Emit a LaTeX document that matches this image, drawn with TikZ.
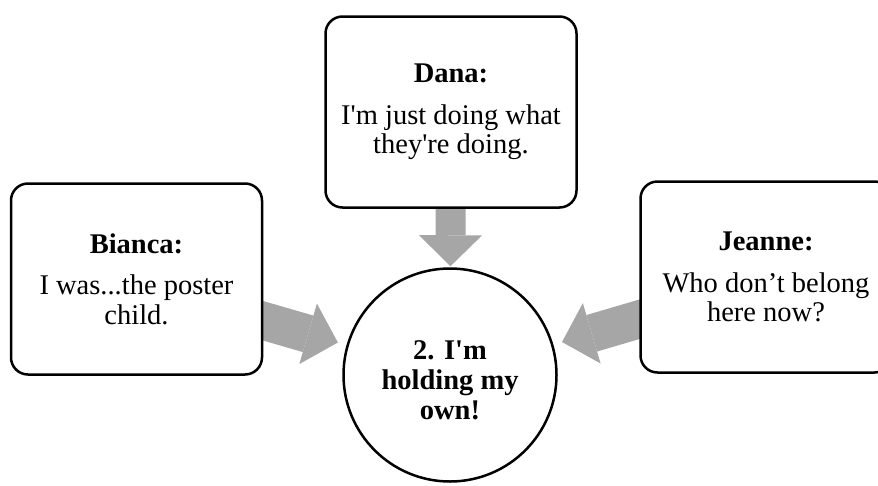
\documentclass[tikz,border=0pt]{standalone}
\usepackage{fontspec}
\setmainfont{Liberation Serif}[Ligatures=TeXOff]
\usetikzlibrary{arrows.meta,backgrounds}
\definecolor{arrowgray}{RGB}{166,166,166}
\tikzset{
  quote/.style={draw=black, line width=2.5pt, fill=white, rounded corners=17pt,
    minimum width=251pt, minimum height=191pt, align=center, inner sep=0pt,
    font=\fontsize{28.5}{29.5}\selectfont},
  hub/.style={circle, draw=black, line width=2.5pt, fill=white, minimum size=213pt,
    inner sep=0pt},
  hubtext/.style={align=center, inner sep=0pt, font=\fontsize{28.5}{30}\selectfont\bfseries},
  flow/.style={draw=arrowgray, line width=#1,
    -{Triangle[length=31pt,width=63pt,line width=0pt]}},
  flow/.default=38pt
}
\begin{document}
\begin{tikzpicture}[x=1pt,y=-1pt]
\useasboundingbox (0,0) rectangle (878,485);
\clip (0,0) rectangle (878,485);

% centre and the three speakers
\node[hub] (hub) at (450,375) {};
\node[hubtext] (hubtext) at ([yshift=-5pt]hub.center) {2. I'm\\holding my\\own!};
\node[quote] (dana) at (451,112) {\textbf{Dana:}\\[12pt]I'm just doing what\\they're doing.};
\node[quote] (bianca) at (136.5,279) {\textbf{Bianca:}\\[12pt]I was...the poster\\child.};
\node[quote] (jeanne) at (766,277) {\textbf{Jeanne:}\\[12pt]Who don’t belong\\here now?};

% block arrows converging on the centre
\begin{scope}[on background layer]
  \draw[flow=30pt, shorten >=1pt] (dana.center) -- (hub);
  \draw[flow, shorten >=9pt] ([yshift=-5pt]bianca.center) -- (hub);
  \draw[flow, shorten >=9pt] ([yshift=-5pt]jeanne.center) -- (hub);
\end{scope}
\end{tikzpicture}
\end{document}
